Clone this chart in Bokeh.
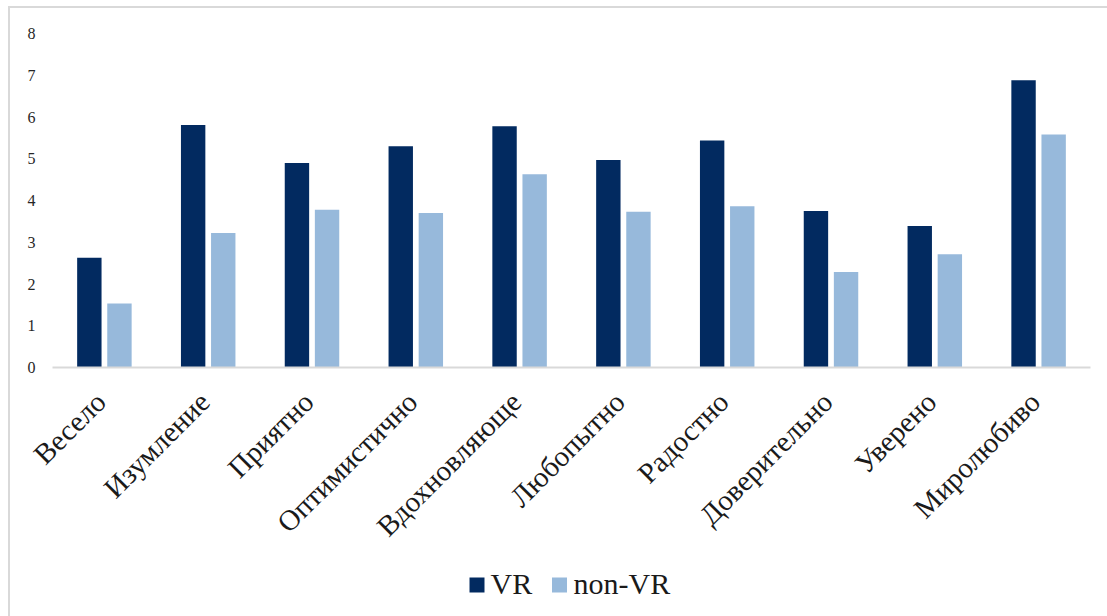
import math

from bokeh.core.properties import value
from bokeh.embed import file_html
from bokeh.models import Range1d
from bokeh.plotting import figure
from bokeh.resources import INLINE

# Emotion categories and mean scores for the two groups
categories = ["Весело", "Изумление", "Приятно", "Оптимистично", "Вдохновляюще",
              "Любопытно", "Радостно", "Доверительно", "Уверено", "Миролюбиво"]
vr_scores = [2.63, 5.81, 4.90, 5.30, 5.78, 4.97, 5.44, 3.75, 3.39, 6.88]
non_vr_scores = [1.53, 3.22, 3.78, 3.70, 4.63, 3.73, 3.86, 2.29, 2.71, 5.58]
y_ticks = [0, 1, 2, 3, 4, 5, 6, 7, 8]
series_names = ["VR", "non-VR"]

VR_COLOR = "#022A60"
NON_VR_COLOR = "#97B9DB"
TEXT_COLOR = "#1a1a1a"
SERIF = "Liberation Serif"

# canvas layout in pixels: plotting area and value scale
W, H = 1107, 616
PLOT_LEFT, PLOT_RIGHT = 52, 1090
PLOT_TOP, PLOT_BOTTOM = 33, 367
Y_MAX = 8
n = len(categories)
px_per_x = (PLOT_RIGHT - PLOT_LEFT) / n
px_per_y = (PLOT_BOTTOM - PLOT_TOP) / Y_MAX


def data_x(px):
    return (px - PLOT_LEFT) / px_per_x


def data_y(py):
    return (PLOT_BOTTOM - py) / px_per_y


p = figure(
    frame_width=W, frame_height=H,
    x_range=Range1d(data_x(0), data_x(W)),
    y_range=Range1d(data_y(H), data_y(0)),
    output_backend="svg", toolbar_location=None,
    min_border=0,
)
p.axis.visible = False
p.grid.visible = False
p.outline_line_color = None
p.border_fill_color = None
p.background_fill_color = None
# thin grey frame around the chart (top and left edges)
p.styles = {
    "background": ("linear-gradient(#D9D9D9,#D9D9D9) 8px 6px / 1099px 2px no-repeat, "
                   "linear-gradient(#D9D9D9,#D9D9D9) 8px 6px / 2px 610px no-repeat, white"),
}

centers = [i + 0.5 for i in range(n)]
offset = 0.145
bar_w = 0.235
p.vbar(x=[c - offset for c in centers], top=vr_scores, width=bar_w,
       fill_color=VR_COLOR, line_color=None)
p.vbar(x=[c + offset for c in centers], top=non_vr_scores, width=bar_w,
       fill_color=NON_VR_COLOR, line_color=None)

# category baseline
p.segment(x0=[0], y0=[0], x1=[n], y1=[0], line_color="#D9D9D9", line_width=2)

# value labels on the left
p.text(x=[data_x(PLOT_LEFT - 17)] * len(y_ticks), y=y_ticks, text=[str(t) for t in y_ticks],
       text_align="right", text_baseline="middle",
       text_font=value(SERIF), text_font_size="16px", text_color="#262626")

# slanted category names below the baseline
p.text(x=[c - 15 / px_per_x for c in centers], y=[data_y(PLOT_BOTTOM + 18)] * n,
       text=categories, angle=math.pi / 4, text_align="right", text_baseline="top",
       text_font=value(SERIF), text_font_size="29px", text_color=TEXT_COLOR)

# legend: colour swatches with series names underneath the chart
swatch_px = [476.5, 559]
label_px = [490, 573]
p.scatter(x=[data_x(v) for v in swatch_px], y=[data_y(584.5)] * 2, marker="square",
          size=15, fill_color=[VR_COLOR, NON_VR_COLOR], line_color=None)
p.text(x=[data_x(v) for v in label_px], y=[data_y(583)] * 2, text=series_names,
       text_align="left", text_baseline="alphabetic",
       text_font=value(SERIF), text_font_size="30px", text_color=TEXT_COLOR)

open("out.html", "w").write(file_html(p, INLINE))
